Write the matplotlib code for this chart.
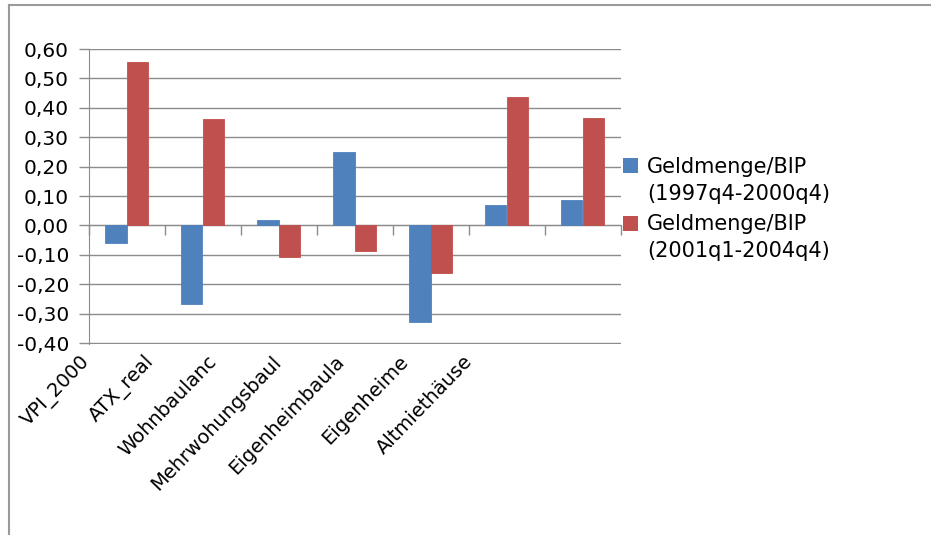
import matplotlib
matplotlib.use('Agg')
import matplotlib.pyplot as plt
from matplotlib.lines import Line2D
from matplotlib.patches import Rectangle
from matplotlib.ticker import FuncFormatter
import numpy as np

# ── Data ─────────────────────────────────────────────────────────────────────
categories = ['VPI_2000', 'ATX_real', 'Wohnbaulanc', 'Mehrwohungsbaul',
              'Eigenheimbaula', 'Eigenheime', 'Altmiethäuse']
corr_1997_2000 = [-0.060, -0.268, 0.020, 0.251, -0.329, 0.071, 0.085]
corr_2001_2004 = [0.556, 0.363, -0.108, -0.088, -0.163, 0.437, 0.366]
series_labels = ['Geldmenge/BIP\n(1997q4-2000q4)', 'Geldmenge/BIP\n(2001q1-2004q4)']
yticks = np.arange(-0.40, 0.601, 0.10)

BLUE = '#4F81BD'
RED = '#C0504D'
GRID = '#8c8c8c'

plt.rcParams['font.family'] = ['DejaVu Sans']

W, H = 931, 535
fig = plt.figure(figsize=(W / 100, H / 100), dpi=100)
ax = fig.add_axes([88.5 / W, 1 - 343.5 / H, (620.5 - 88.5) / W, (343.5 - 49) / H])

x = np.arange(len(categories))
bw = 1 / 3.5
# same-colour edge closes the hairline between adjacent bars
ax.bar(x - bw / 2, corr_1997_2000, width=bw, color=BLUE, edgecolor=BLUE,
       lw=0.6, zorder=3)
ax.bar(x + bw / 2, corr_2001_2004, width=bw, color=RED, edgecolor=RED,
       lw=0.6, zorder=3)

ax.set_xlim(-0.5, len(categories) - 0.5)
ax.set_ylim(-0.4017, 0.60)
ax.set_yticks(yticks)
ax.yaxis.set_major_formatter(FuncFormatter(
    lambda v, p: f'{0 if abs(v) < 1e-9 else v:.2f}'.replace('.', ',')))
ax.grid(axis='y', color=GRID, lw=1.0, zorder=0)
ax.tick_params(axis='y', direction='out', length=7, color=GRID, width=1.0,
               labelsize=14.5, pad=7)

# category axis runs along zero, ticks between categories
for s in ['top', 'right']:
    ax.spines[s].set_visible(False)
ax.spines['bottom'].set_position(('data', 0))
ax.spines['bottom'].set_color(GRID)
ax.spines['left'].set_color(GRID)
ax.set_xticks(np.arange(-0.5, len(categories), 1.0))
ax.set_xticklabels([])
ax.tick_params(axis='x', direction='out', length=7, color=GRID, width=1.0)

# rotated category labels below the plot
lab_x0, lab_dx, lab_y = 80, 63.7, 352
for i, name in enumerate(categories):
    fig.text((lab_x0 + i * lab_dx) / W, 1 - lab_y / H, name, rotation=46,
             rotation_mode='anchor', ha='right', va='top', fontsize=14)

# legend: square key beside the first line of each two-line entry
for k, (lab, col) in enumerate(zip(series_labels, [BLUE, RED])):
    top = 158.3 + k * 57.7
    fig.add_artist(Rectangle((623.3 / W, 1 - (top + 15) / H), 15 / W, 15 / H,
                             transform=fig.transFigure, facecolor=col, lw=0))
    for j, line in enumerate(lab.split('\n')):
        base = 173 + k * 57 + j * 27
        fig.text(647 / W, 1 - base / H, line, fontsize=15, va='baseline', ha='left')

# chart frame (left and top edges)
fig.add_artist(Line2D([8.5 / W, 8.5 / W], [0, 1 - 5 / H], color='#9a9a9a', lw=1.5))
fig.add_artist(Line2D([8.5 / W, 1], [1 - 5 / H, 1 - 5 / H], color='#9a9a9a', lw=1.5))

fig.savefig('out.png', dpi=100, facecolor='white')
